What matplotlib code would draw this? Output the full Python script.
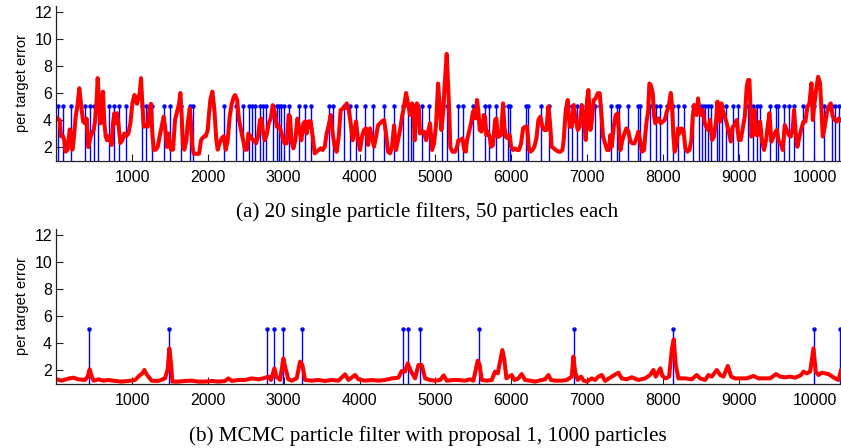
import numpy as np
import matplotlib
matplotlib.use("Agg")
import matplotlib.pyplot as plt

# ---------------- data ----------------
# (a) 20 single particle filters: per-target error over time
a_time = [19, 46, 63, 90, 107, 125, 151, 178, 195, 213, 230, 257, 283, 305, 327, 354, 380, 402, 424, 441,
          468, 494, 512, 529, 547, 565, 582, 600, 617, 635, 653, 670, 688, 714, 732, 749, 767, 784, 802, 820,
          846, 872, 899, 925, 952, 978, 1004, 1031, 1048, 1066, 1084, 1101, 1119, 1136, 1154, 1180, 1207, 1233,
          1251, 1268, 1286, 1312, 1338, 1365, 1391, 1418, 1435, 1462, 1479, 1497, 1514, 1541, 1567, 1594, 1620,
          1638, 1655, 1673, 1690, 1717, 1734, 1761, 1778, 1796, 1813, 1857, 1884, 1910, 1928, 1954, 1972, 1998,
          2016, 2033, 2060, 2086, 2112, 2130, 2156, 2183, 2209, 2236, 2262, 2288, 2315, 2341, 2359, 2385, 2411,
          2438, 2464, 2490, 2517, 2534, 2561, 2587, 2609, 2635, 2662, 2688, 2706, 2723, 2749, 2776, 2802, 2829,
          2855, 2881, 2908, 2934, 2961, 2987, 3013, 3040, 3066, 3084, 3101, 3128, 3154, 3180, 3207, 3233, 3260,
          3286, 3303, 3330, 3356, 3383, 3409, 3435, 3462, 3488, 3515, 3541, 3567, 3594, 3620, 3646, 3673, 3699,
          3726, 3752, 3778, 3805, 3831, 3858, 3884, 3910, 3937, 3954, 3981, 4007, 4033, 4060, 4086, 4113, 4139,
          4165, 4192, 4218, 4244, 4271, 4297, 4324, 4350, 4376, 4403, 4429, 4456, 4482, 4508, 4535, 4561, 4587,
          4614, 4640, 4667, 4693, 4711, 4728, 4755, 4781, 4798, 4825, 4851, 4878, 4904, 4930, 4957, 4983, 5009,
          5036, 5062, 5080, 5106, 5124, 5150, 5181, 5198, 5225, 5260, 5286, 5304, 5330, 5357, 5383, 5401, 5418,
          5445, 5471, 5497, 5515, 5533, 5550, 5568, 5585, 5612, 5638, 5656, 5673, 5691, 5717, 5735, 5761, 5788,
          5805, 5823, 5840, 5867, 5893, 5911, 5928, 5955, 5981, 5999, 6025, 6051, 6078, 6104, 6131, 6157, 6183,
          6210, 6236, 6254, 6280, 6306, 6333, 6359, 6386, 6412, 6438, 6465, 6491, 6509, 6535, 6561, 6588, 6623,
          6649, 6676, 6693, 6720, 6746, 6772, 6799, 6825, 6852, 6878, 6904, 6931, 6957, 6984, 7001, 7019, 7045,
          7063, 7089, 7115, 7142, 7168, 7186, 7212, 7239, 7265, 7291, 7309, 7327, 7353, 7379, 7406, 7423, 7441,
          7467, 7494, 7520, 7546, 7573, 7599, 7626, 7652, 7678, 7700, 7726, 7753, 7770, 7788, 7806, 7823, 7841,
          7867, 7885, 7902, 7920, 7946, 7973, 7999, 8025, 8052, 8078, 8105, 8122, 8140, 8157, 8184, 8201, 8219,
          8245, 8272, 8298, 8324, 8351, 8377, 8395, 8412, 8430, 8447, 8465, 8483, 8509, 8527, 8553, 8571, 8597,
          8623, 8650, 8676, 8703, 8720, 8738, 8755, 8773, 8790, 8817, 8843, 8870, 8896, 8922, 8949, 8975, 9002,
          9028, 9054, 9081, 9107, 9125, 9142, 9169, 9186, 9213, 9230, 9257, 9283, 9309, 9336, 9362, 9388, 9406,
          9432, 9459, 9476, 9503, 9529, 9556, 9582, 9608, 9635, 9661, 9688, 9714, 9731, 9749, 9775, 9802, 9828,
          9855, 9881, 9907, 9934, 9960, 9978, 9995, 10022, 10048, 10074, 10092, 10110, 10136, 10162, 10189,
          10215, 10241, 10268, 10294, 10321, 10345]
a_error = [4.1, 4.0, 2.8, 2.8, 2.5, 1.65, 1.8, 3.3, 3.0, 1.8, 2.5, 4.25, 5.2, 6.35, 5.2, 3.9, 3.75, 4.1, 2.0, 2.5,
           3.0, 3.25, 3.9, 5.0, 7.1, 5.6, 3.75, 4.25, 6.1, 3.75, 2.8, 2.5, 2.8, 2.5, 2.15, 3.75, 4.5, 3.75, 4.5, 3.75,
           2.3, 2.5, 3.0, 2.8, 3.0, 3.75, 5.2, 5.85, 5.6, 5.2, 5.6, 6.0, 7.1, 5.2, 3.5, 3.6, 3.5, 5.0,
           5.2, 3.0, 1.8, 1.8, 2.0, 2.8, 3.5, 4.25, 3.5, 2.0, 3.0, 2.3, 1.8, 1.8, 4.0, 4.6, 5.2,
           6.0, 4.25, 2.0, 1.8, 2.5, 3.75, 4.85, 3.75, 2.0, 1.5, 1.5, 1.5, 2.5, 2.65, 2.8, 2.8, 3.25,
           4.5, 5.5, 6.1, 4.75, 2.5, 1.8, 2.3, 2.65, 2.8, 1.8, 2.5, 4.25, 5.2, 5.7, 5.85, 5.5, 4.0,
           3.25, 2.5, 1.8, 1.8, 3.0, 2.8, 2.55, 2.5, 2.27, 2.77, 4.0, 4.1, 3.26, 2.5, 2.9, 3.75, 4.1,
           5.1, 4.6, 3.5, 3.6, 3.26, 2.64, 2.27, 2.27, 4.37, 4.25, 2.5, 1.9, 2.5, 4.1, 3.26, 2.5, 3.75,
           3.9, 3.0, 3.9, 3.9, 2.77, 1.53, 1.65, 1.78, 1.9, 1.78, 2.02, 3.0, 3.6, 4.37, 3.0, 2.02, 1.65,
           2.77, 4.74, 4.86, 4.86, 5.23, 4.74, 3.75, 2.5, 3.26, 3.9, 2.5, 1.78, 2.77, 3.26, 3.38, 2.15, 3.38,
           2.64, 2.02, 2.77, 3.6, 3.75, 3.9, 4.0, 3.0, 1.65, 1.53, 2.02, 3.6, 1.78, 2.5, 3.26, 4.25, 5.0,
           6.0, 5.23, 4.37, 5.23, 4.74, 2.5, 5.23, 5.0, 3.0, 3.14, 3.14, 2.5, 3.14, 3.75, 1.78, 2.27, 3.6,
           6.7, 4.74, 3.26, 4.74, 6.7, 8.9, 5.0, 2.0, 1.65, 1.65, 2.0, 2.5, 2.5, 2.64, 1.78, 1.65, 2.5,
           3.14, 3.75, 4.62, 4.74, 4.12, 5.48, 4.62, 3.26, 3.14, 4.37, 4.25, 2.89, 3.14, 2.77, 2.02, 2.15, 4.0,
           4.12, 2.77, 2.77, 2.89, 5.23, 3.5, 2.77, 2.64, 2.89, 2.02, 1.78, 1.9, 1.78, 1.78, 2.27, 3.38, 3.5,
           3.5, 1.78, 1.65, 1.78, 2.02, 2.64, 4.0, 4.25, 3.5, 3.26, 3.26, 5.0, 4.0, 2.02, 1.9, 1.78, 1.65,
           1.65, 1.78, 2.52, 4.74, 5.48, 3.5, 3.5, 5.11, 4.0, 3.26, 3.5, 5.11, 4.25, 2.52, 5.48, 6.22, 3.26,
           3.88, 5.48, 5.6, 5.98, 5.98, 4.74, 2.77, 2.27, 1.78, 1.78, 2.89, 2.02, 3.5, 4.37, 4.49, 3.01, 1.78,
           2.52, 3.01, 3.38, 3.14, 2.4, 2.27, 2.27, 2.64, 3.14, 2.52, 1.65, 1.78, 3.0, 4.0, 4.6, 6.7, 6.6,
           6.0, 4.25, 3.75, 4.0, 4.12, 3.75, 3.88, 4.0, 4.6, 5.0, 6.0, 5.0, 2.77, 1.65, 2.27, 3.38, 3.0,
           3.38, 3.26, 1.9, 1.65, 1.78, 2.52, 4.25, 5.11, 4.5, 4.37, 5.6, 4.74, 4.37, 4.74, 3.75, 3.5, 3.26,
           4.0, 2.52, 2.77, 4.0, 5.36, 4.0, 3.88, 5.23, 4.74, 4.25, 3.75, 3.14, 2.4, 3.5, 3.63, 4.0, 2.52,
           2.52, 3.38, 4.25, 6.47, 6.96, 6.96, 2.77, 3.5, 4.74, 2.89, 2.89, 3.88, 2.4, 1.78, 2.52, 3.75, 4.5,
           2.4, 2.77, 3.0, 3.26, 2.4, 2.27, 1.78, 3.63, 3.26, 2.89, 2.77, 3.38, 4.74, 3.26, 2.02, 2.77, 3.38,
           3.88, 3.88, 5.0, 5.23, 6.72, 4.0, 5.0, 6.22, 7.2, 6.72, 4.74, 2.77, 3.5, 4.5, 5.0,
           5.23, 4.25, 4.0, 3.88, 4.12, 4.0]
# (a) event markers (stems drawn to level 5)
a_events = [28, 94, 191, 384, 450, 499, 555, 690, 756, 828, 925, 1128, 1180, 1260, 1428, 1501, 1646, 1765,
            1798, 2213, 2376, 2460, 2543, 2587, 2616, 2688, 2724, 2771, 2856, 2910, 2939, 2965, 2998, 3071,
            3199, 3286, 3361, 3601, 3647, 3800, 3875, 3957, 4076, 4175, 4326, 4456, 4570, 4640, 4676, 4710,
            4829, 4921, 5082, 5155, 5304, 5366, 5502, 5649, 5702, 5805, 5897, 5963, 5986, 6197, 6227, 6391,
            6504, 6755, 6800, 6873, 6931, 7107, 7173, 7314, 7393, 7426, 7546, 7678, 7700, 7832, 7911, 7964,
            8052, 8132, 8205, 8281, 8404, 8483, 8518, 8562, 8593, 8633, 8720, 8746, 8778, 8835, 8923, 8997,
            9129, 9195, 9240, 9283, 9415, 9490, 9525, 9604, 9666, 9732, 9855, 10000, 10131, 10229, 10272, 10329]

# (b) MCMC particle filter: per-target error over time
b_time = [10, 72, 160, 226, 292, 380, 415, 441, 468, 494, 556, 622, 688, 776, 864, 952, 1040, 1092, 1136, 1163,
          1198, 1259, 1347, 1435, 1470, 1492, 1514, 1532, 1611, 1699, 1787, 1875, 1963, 2051, 2139, 2227, 2271,
          2315, 2403, 2490, 2578, 2666, 2732, 2798, 2833, 2877, 2904, 2952, 2996, 3018, 3062, 3106, 3172, 3216,
          3247, 3282, 3370, 3458, 3546, 3634, 3722, 3810, 3854, 3942, 3986, 4073, 4161, 4249, 4337, 4425, 4513,
          4557, 4601, 4636, 4680, 4733, 4777, 4821, 4865, 4931, 4997, 5063, 5111, 5151, 5238, 5304, 5392, 5458,
          5502, 5533, 5559, 5585, 5612, 5678, 5744, 5788, 5823, 5854, 5884, 5911, 5937, 5972, 6007, 6043, 6095,
          6139, 6183, 6249, 6315, 6403, 6447, 6491, 6526, 6579, 6667, 6733, 6799, 6821, 6843, 6878, 6922, 6957,
          7001, 7063, 7107, 7151, 7195, 7239, 7327, 7414, 7458, 7524, 7590, 7678, 7766, 7832, 7876, 7907, 7942,
          7968, 7995, 8039, 8083, 8118, 8144, 8171, 8206, 8294, 8382, 8448, 8492, 8558, 8602, 8646, 8712, 8756,
          8800, 8857, 8901, 8953, 9041, 9107, 9195, 9261, 9349, 9415, 9494, 9547, 9613, 9679, 9745, 9824, 9855,
          9899, 9943, 9987, 10017, 10053, 10097, 10184, 10272, 10316, 10351]
b_error = [1.31, 1.21, 1.36, 1.43, 1.31, 1.26, 1.51, 2.05, 1.51, 1.21, 1.31, 1.21, 1.26, 1.19, 1.14, 1.19, 1.26,
           1.56, 1.75, 2.0, 1.63, 1.21, 1.19, 1.38, 2.05, 3.6, 2.49, 1.14, 1.14, 1.19, 1.21, 1.14, 1.14, 1.19,
           1.14, 1.19, 1.38, 1.19, 1.26, 1.26, 1.38, 1.31, 1.38, 1.51, 1.26, 2.12, 1.51, 1.26, 2.86, 2.25, 1.31,
           1.21, 1.38, 2.62, 2.37, 1.26, 1.21, 1.26, 1.19, 1.26, 1.21, 1.68, 1.26, 1.63, 1.31, 1.21, 1.26, 1.21,
           1.26, 1.38, 1.43, 1.93, 1.88, 2.49, 1.88, 1.38, 2.37, 2.37, 1.38, 1.26, 1.21, 1.26, 1.6, 1.21, 1.26,
           1.26, 1.21, 1.31, 1.21, 2.0, 2.69, 2.37, 1.26, 1.21, 1.26, 1.88, 1.75, 2.62, 3.48, 2.74, 1.38, 1.51,
           1.63, 1.26, 1.38, 1.7, 1.26, 1.21, 1.14, 1.26, 1.31, 1.63, 1.26, 1.21, 1.21, 1.26, 1.51, 2.99, 1.88,
           1.26, 1.51, 1.21, 1.14, 1.38, 1.26, 1.51, 1.63, 1.19, 1.51, 1.8, 1.38, 1.31, 1.46, 1.26, 1.38, 1.63,
           2.0, 1.51, 1.88, 2.12, 1.56, 1.38, 1.51, 3.48, 4.27, 2.37, 1.38, 1.38, 1.31, 1.63, 1.38, 1.26, 1.63,
           1.51, 2.0, 1.63, 1.51, 2.3, 1.51, 1.38, 1.38, 1.38, 1.56, 1.38, 1.38, 1.38, 1.7, 1.51, 1.46, 1.51,
           1.43, 1.63, 1.88, 1.75, 1.88, 3.6, 1.88, 1.63, 1.8, 1.7, 1.38, 1.26, 2.0]
b_events = [437, 1492, 2777, 2877, 2995, 3236, 4570, 4634, 4792, 5581, 6827, 8136, 9989, 10338]

event_level = 5
x_ticks = [1000, 2000, 3000, 4000, 5000, 6000, 7000, 8000, 9000, 10000]
y_ticks = [2, 4, 6, 8, 10, 12]
caption_a = "(a) 20 single particle filters, 50 particles each"
caption_b = "(b) MCMC particle filter with proposal 1, 1000 particles"
y_label = "per target error"

# ---------------- plot ----------------
plt.rcParams['font.family'] = ['Liberation Sans', 'DejaVu Sans']

W, H = 841, 448
fig = plt.figure(figsize=(W / 100, H / 100), dpi=100)

left = 56.2 / W
width = 1 - left
ax_a = fig.add_axes([left, 1 - 160.5 / H, width, 154.6 / H])
ax_b = fig.add_axes([left, 1 - 383.5 / H, width, 154.6 / H])


def draw(ax, t, err, events):
    ax.vlines(events, 0, event_level, colors='#0000ff', linewidth=1.0, zorder=2)
    ax.plot(events, [event_level] * len(events), linestyle='none', marker='o',
            markersize=2.2, color='#0000ff', zorder=2.5)
    ax.plot(t, err, color='#ff0000', linewidth=2.9, solid_joinstyle='round', zorder=3)
    ax.set_xlim(0, 10350)
    ax.set_ylim(1.0, 12.45)
    ax.set_xticks(x_ticks)
    ax.set_yticks(y_ticks)
    for s in ('top', 'right'):
        ax.spines[s].set_visible(False)
    for s in ('left', 'bottom'):
        ax.spines[s].set_linewidth(0.9)
        ax.spines[s].set_color('#222222')
        ax.spines[s].set_zorder(4)
    ax.tick_params(axis='both', direction='in', length=5, width=0.8, labelsize=11.5,
                   colors='#222222', labelcolor='black')
    ax.tick_params(axis='x', pad=7)
    ax.tick_params(axis='y', pad=3)
    ax.set_ylabel(y_label, fontsize=10.5, labelpad=4)
    ax.patch.set_alpha(0)


draw(ax_a, a_time, a_error, a_events)
draw(ax_b, b_time, b_error, b_events)

cap_x = 427.5 / W
fig.text(cap_x, 1 - 212 / H, caption_a, ha='center', va='center', fontsize=15.2,
         family=['Liberation Serif', 'DejaVu Serif'])
fig.text(cap_x, 1 - 436 / H, caption_b, ha='center', va='center', fontsize=15.2,
         family=['Liberation Serif', 'DejaVu Serif'])

fig.savefig('out.png', dpi=100)
